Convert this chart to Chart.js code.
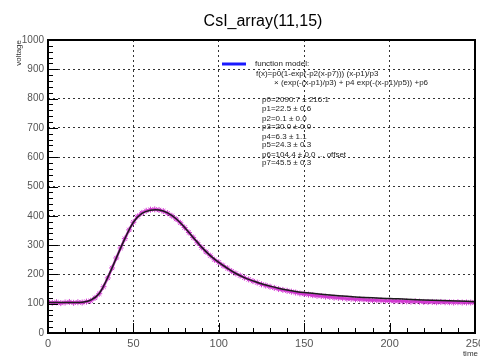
<!DOCTYPE html>
<html>
<head>
<meta charset="utf-8">
<script src="https://cdn.jsdelivr.net/npm/chart.js@4"></script>
<style>
  html, body { margin: 0; padding: 0; background: #fff; }
  canvas { display: block; }
</style>
</head>
<body>
<canvas id="myChart" width="480" height="359"></canvas>
<script>
const dataTime = [0, 2.5, 5, 7.5, 10, 12.5, 15, 17.5, 20, 22.5, 25, 27.5, 30, 32.5, 35, 37.5, 40, 42.5, 45, 47.5,
  50, 52.5, 55, 57.5, 60, 62.5, 65, 67.5, 70, 72.5, 75, 77.5, 80, 82.5, 85, 87.5, 90, 92.5, 95, 97.5,
  100, 102.5, 105, 107.5, 110, 112.5, 115, 117.5, 120, 122.5, 125, 127.5, 130, 132.5, 135, 137.5, 140, 142.5, 145, 147.5,
  150, 152.5, 155, 157.5, 160, 162.5, 165, 167.5, 170, 172.5, 175, 177.5, 180, 182.5, 185, 187.5, 190, 192.5, 195, 197.5,
  200, 202.5, 205, 207.5, 210, 212.5, 215, 217.5, 220, 222.5, 225, 227.5, 230, 232.5, 235, 237.5, 240, 242.5, 245, 247.5, 250];
const dataVoltage = [106, 103, 105, 102, 104, 106, 103, 105, 104, 107, 110, 120, 134, 158, 188, 222, 256, 290, 322, 352,
  378, 398, 410, 417, 421, 422, 420, 416, 409, 400, 389, 376, 360, 343, 326, 308, 292, 277, 264, 250,
  241, 230, 221, 211, 203, 196, 189, 183, 177, 172, 166, 162, 158, 154, 150, 147, 144, 141, 138, 135,
  133, 131, 129, 127, 126, 124, 123, 121, 120, 119, 117, 117, 115, 115, 114, 113, 112, 112, 111, 110,
  110, 109, 109, 108, 108, 107, 108, 107, 106, 106, 106, 105, 106, 105, 105, 104, 105, 104, 104, 104, 104];

// fitted curve (black line)
const fitTime = [0, 5, 10, 15, 20, 25, 30, 35, 40, 45, 50, 55, 60, 65, 70, 75, 80, 85, 90, 95, 100,
  105, 110, 115, 120, 125, 130, 135, 140, 145, 150, 160, 170, 180, 190, 200, 210, 220, 230, 240, 250];
const fitVoltage = [104, 104, 104, 104, 105, 112, 135, 190, 256, 322, 378, 408, 419, 420, 410, 390, 360, 326, 293, 264, 241,
  221, 203, 189, 178, 168, 160, 153, 147, 142, 138, 132, 127, 123, 120, 118, 115, 113, 111, 109, 107];

const titleText = 'CsI_array(11,15)';
const xTitle = 'time';
const yTitle = 'voltage';
const legendHeader = 'function model:';
const formulaLines = [
  'f(x)=p0(1-exp(-p2(x-p7))) (x-p1)/p3',
  '\u00d7 (exp(-(x-p1)/p3) + p4 exp(-(x-p1)/p5)) +p6'
];
const paramLines = [
  'p0=2090.7 \u00b1 216.1',
  'p1=22.5 \u00b1 0.6',
  'p2=0.1 \u00b1 0.0',
  'p3=20.0 \u00b1 0.0',
  'p4=6.3 \u00b1 1.1',
  'p5=24.3 \u00b1 0.3',
  'p6=104.4 \u00b1 0.0 ... offset',
  'p7=45.5 \u00b1 0.3'
];

const FONT = "'Liberation Sans', Arial, sans-serif";

// frame, inner ticks and the text boxes
const rootStyle = {
  id: 'rootStyle',
  afterDraw(chart) {
    const { ctx, chartArea: a, scales } = chart;
    const xs = scales.x, ys = scales.y;
    ctx.save();
    ctx.strokeStyle = '#000';
    ctx.lineWidth = 1;
    ctx.beginPath();
    for (let v = 0; v <= 1000; v += 20) {
      const y = Math.round(ys.getPixelForValue(v)) + 0.5;
      const len = v % 100 === 0 ? 10 : 5;
      ctx.moveTo(a.left, y);
      ctx.lineTo(a.left + len, y);
    }
    for (let v = 0; v <= 250; v += 10) {
      const x = Math.round(xs.getPixelForValue(v)) + 0.5;
      const len = v % 50 === 0 ? 10 : 5;
      ctx.moveTo(x, a.bottom);
      ctx.lineTo(x, a.bottom - len);
    }
    ctx.stroke();

    ctx.lineWidth = 2;
    ctx.strokeRect(a.left, a.top, a.right - a.left, a.bottom - a.top);

    // title
    ctx.fillStyle = '#000';
    ctx.font = '16px ' + FONT;
    ctx.textAlign = 'center';
    ctx.textBaseline = 'alphabetic';
    ctx.fillText(titleText, 263, 26);

    // axis titles
    ctx.fillStyle = '#333';
    ctx.font = '8px ' + FONT;
    ctx.textAlign = 'right';
    ctx.textBaseline = 'middle';
    ctx.fillText(xTitle, 478, 354);
    ctx.save();
    ctx.translate(19, 40);
    ctx.rotate(-Math.PI / 2);
    ctx.fillText(yTitle, 0, 0);
    ctx.restore();

    // legend box
    ctx.strokeStyle = '#1a1aff';
    ctx.lineWidth = 3;
    ctx.beginPath();
    ctx.moveTo(222, 64);
    ctx.lineTo(246, 64);
    ctx.stroke();

    ctx.fillStyle = '#222';
    ctx.font = '8px ' + FONT;
    ctx.textAlign = 'left';
    ctx.fillText(legendHeader, 255, 64);
    ctx.fillText(formulaLines[0], 256, 74);
    ctx.fillText(formulaLines[1], 274, 83);
    const py = [100, 109, 119, 127, 137, 145, 155, 163];
    paramLines.forEach((t, i) => ctx.fillText(t, 262, py[i]));
    ctx.restore();
  }
};

const ctx = document.getElementById('myChart').getContext('2d');
const myChart = new Chart(ctx, {
  type: 'scatter',
  data: {
    datasets: [{
      label: 'fit',
      data: fitTime.map((t, i) => ({ x: t, y: fitVoltage[i] })),
      showLine: true,
      borderColor: '#1c1c1c',
      borderWidth: 1.5,
      pointRadius: 0,
      tension: 0.4
    }, {
      label: 'data',
      data: dataTime.map((t, i) => ({ x: t, y: dataVoltage[i] })),
      showLine: true,
      borderColor: '#d23cd2',
      backgroundColor: '#d23cd2',
      borderWidth: 2.5,
      pointStyle: 'star',
      pointRadius: 3,
      pointBorderWidth: 1
    }]
  },
  options: {
    responsive: false,
    animation: false,
    devicePixelRatio: 1,
    layout: { padding: { left: 0, right: 3, top: 40, bottom: 0 } },
    plugins: {
      legend: { display: false },
      title: { display: false },
      tooltip: { enabled: false }
    },
    scales: {
      x: {
        type: 'linear',
        min: 0,
        max: 250,
        ticks: { stepSize: 50, padding: 4, color: '#555', font: { family: FONT, size: 11 }, maxRotation: 0,
          callback: v => String(v) },
        grid: { color: '#333', lineWidth: 1, drawTicks: false },
        border: { display: false, dash: [2, 3] },
        afterFit(s) { s.height = 26; s.paddingLeft = 0; s.paddingRight = 0; }
      },
      y: {
        min: 0,
        max: 1000,
        ticks: { stepSize: 100, padding: 4, color: '#555', font: { family: FONT, size: 10 },
          callback: v => String(v) },
        grid: { color: '#333', lineWidth: 1, drawTicks: false },
        border: { display: false, dash: [2, 3] },
        afterFit(s) { s.width = 48; s.paddingTop = 0; s.paddingBottom = 0; }
      }
    }
  },
  plugins: [rootStyle]
});
</script>
</body>
</html>
